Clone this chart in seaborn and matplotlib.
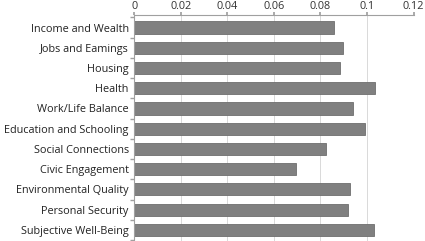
import matplotlib
matplotlib.use("Agg")
import matplotlib.pyplot as plt
import seaborn as sns
import pandas as pd
import numpy as np

categories = ["Income and Wealth", "Jobs and Eamings", "Housing", "Health",
              "Work/Life Balance", "Education and Schooling", "Social Connections",
              "Civic Engagement", "Environmental Quality", "Personal Security",
              "Subjective Well-Being"]
values = [0.0857, 0.0896, 0.0885, 0.1034, 0.0941, 0.0990, 0.0825, 0.0693,
          0.0925, 0.0917, 0.1030]
xticks = [0, 0.02, 0.04, 0.06, 0.08, 0.1, 0.12]
xticklabels = ["0", "0.02", "0.04", "0.06", "0.08", "0.1", "0.12"]

sns.set_theme(style="white")
plt.rcParams['font.family'] = ['Open Sans', 'DejaVu Sans']

df = pd.DataFrame({"category": categories, "value": values})
fig = plt.figure(figsize=(4.25, 2.41), dpi=100)
ax = fig.add_axes([0.316, 0.0, 0.657, 0.936])
sns.barplot(data=df, x="value", y="category", order=categories, color="#808080",
            saturation=1, width=0.6, edgecolor="#6e6e6e", linewidth=0.6, ax=ax, zorder=2)
ax.set_xlim(0, 0.12)
ax.set_ylim(len(categories) - 0.45, -0.6)
ax.set_xticks(xticks)
ax.set_xticklabels(xticklabels)
ax.xaxis.tick_top()
ax.set_xlabel("")
ax.set_ylabel("")
ax.grid(axis="x", color="#d9d9d9", linewidth=0.7, zorder=0)
ax.set_axisbelow(True)
for s in ["right", "bottom"]:
    ax.spines[s].set_visible(False)
for s in ["top", "left"]:
    ax.spines[s].set_color("#a0a0a0")
    ax.spines[s].set_linewidth(0.8)
ax.tick_params(axis="x", top=True, length=2, color="#a0a0a0", labelsize=7.8,
               labelcolor="#333333", pad=0.5)
ax.tick_params(axis="y", left=False, length=0, labelsize=7.8, labelcolor="#222222", pad=4)
ax.set_yticks(np.arange(-0.5, len(categories), 1.0), minor=True)
ax.tick_params(axis="y", which="minor", left=True, length=3, color="#a0a0a0")
fig.savefig("out.png", dpi=100)
